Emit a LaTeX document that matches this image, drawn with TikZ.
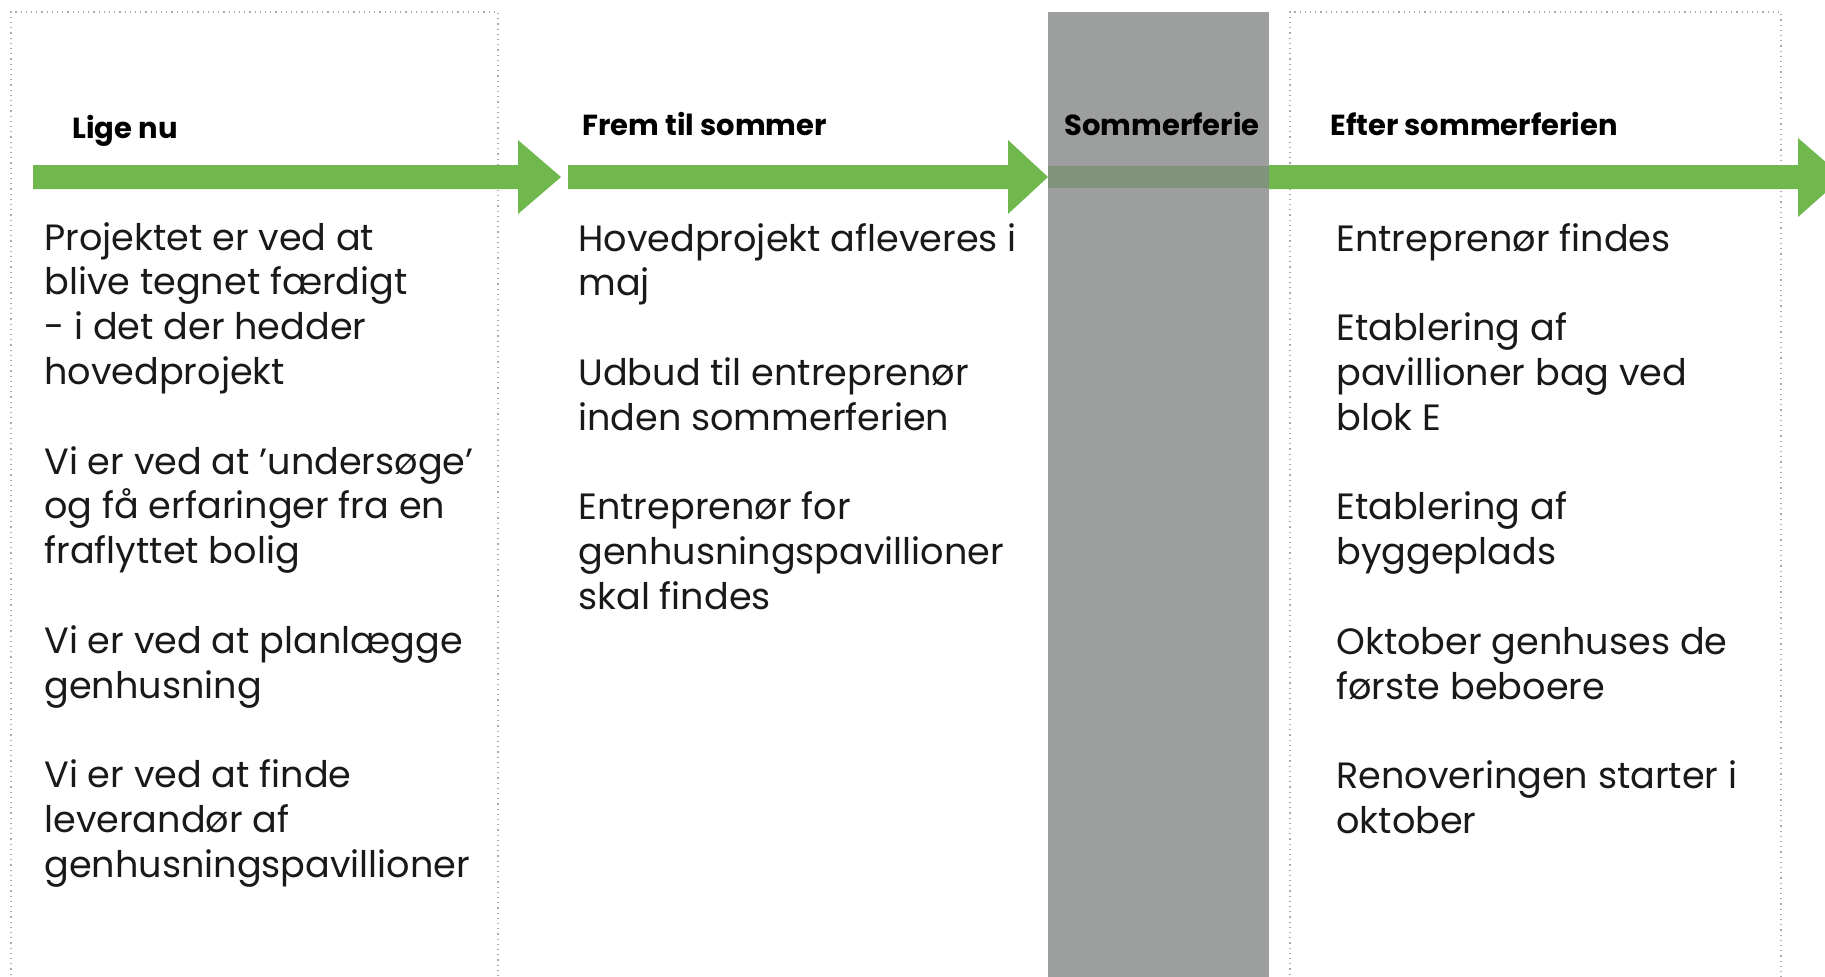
\documentclass[tikz,border=0pt]{standalone}
\usepackage{fontspec}
\setmainfont{Poppins}
\definecolor{arrowgreen}{RGB}{112,184,78}
\definecolor{holidaygrey}{RGB}{156,159,157}
\definecolor{bandgrey}{RGB}{128,148,123}
\definecolor{bordergrey}{RGB}{170,170,170}
\definecolor{bodyink}{RGB}{25,25,25}
\newcommand{\colbody}[1]{\parbox[t]{260pt}{\raggedright #1}}
\tikzset{
  frame/.style={draw=bordergrey, line width=0.6pt, dotted},
  arrowshape/.style={fill=arrowgreen, draw=none},
  heading/.style={anchor=base west, inner sep=0pt, font=\fontsize{14.5pt}{16pt}\selectfont\bfseries, text=black},
  body/.style={anchor=base west, inner sep=0pt, text=bodyink,
    font=\fontsize{18.3pt}{22.4pt}\selectfont},
}
\begin{document}
\begin{tikzpicture}[x=0.5pt,y=-0.5pt]
\useasboundingbox (0,0) rectangle (1825,976);
\fill[white] (0,0) rectangle (1825,976);
% frames
\draw[frame] (11,980) -- (11,12) -- (498,12) -- (498,980);
\draw[frame] (1290,980) -- (1290,12) -- (1781,12) -- (1781,980);
% arrows
\fill[arrowshape] (33,165) -- (518,165) -- (518,140) -- (561,177) -- (518,214) -- (518,189) -- (33,189) -- cycle;
\fill[arrowshape] (568,165) -- (1008,165) -- (1008,140) -- (1048,177) -- (1008,214) -- (1008,189) -- (568,189) -- cycle;
\fill[arrowshape] (1268,165) -- (1798,165) -- (1798,138) -- (1843,177) -- (1798,217) -- (1798,189) -- (1268,189) -- cycle;
% holiday column
\fill[holidaygrey] (1048,12) rectangle (1269,980);
\fill[bandgrey] (1048,166) rectangle (1269,188);
% headings
\node[heading] (h1) at (72,138) {Lige nu};
\node[heading] (h2) at (582,135) {Frem til sommer};
\node[heading] (h3) at (1064,135) {Sommerferie};
\node[heading] (h4) at (1330,135) {Efter sommerferien};
% bodies
\node[body] (b1) at (44,250) {\colbody{Projektet er ved at\\blive tegnet færdigt\\- i det der hedder\\hovedprojekt\\[22.4pt]Vi er ved at ’undersøge’\\og få erfaringer fra en\\fraflyttet bolig\\[22.4pt]Vi er ved at planlægge\\genhusning\\[22.4pt]Vi er ved at finde\\leverandør af\\genhusningspavillioner}};
\node[body] (b2) at (578,251) {\colbody{Hovedprojekt afleveres i\\maj\\[22.4pt]Udbud til entreprenør\\inden sommerferien\\[22.4pt]Entreprenør for\\genhusningspavillioner\\skal findes}};
\node[body] (b4) at (1336,251) {\colbody{Entreprenør findes\\[22.4pt]Etablering af\\pavillioner bag ved\\blok E\\[22.4pt]Etablering af\\byggeplads\\[22.4pt]Oktober genhuses de\\første beboere\\[22.4pt]Renoveringen starter i\\oktober}};
\end{tikzpicture}
\end{document}
